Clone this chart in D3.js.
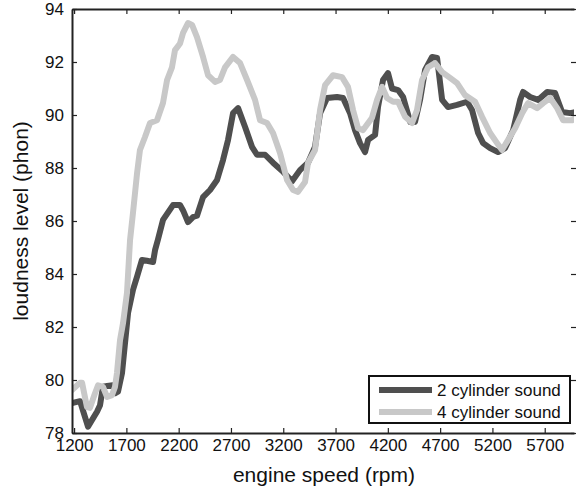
<!DOCTYPE html>
<html>
<head>
<meta charset="utf-8">
<script src="https://cdn.jsdelivr.net/npm/d3@7"></script>
<style>
  body { margin: 0; background: #fff; }
  svg text { font-family: "Liberation Sans", Arial, sans-serif; fill: #111; }
</style>
</head>
<body>
<div id="chart"></div>
<script>
// series data (rpm, phon)
var rpm2 = [1180,1257,1333,1419,1448,1476,1515,1572,1591,1620,1658,1687,1716,1763,1802,1849,1897,1955,1974,2002,2050,2146,2213,2242,2289,2337,2375,2433,2500,2567,2624,2672,2720,2768,2835,2901,2949,3026,3102,3188,3284,3360,3437,3504,3552,3619,3714,3772,3839,3886,3934,3982,4011,4078,4106,4154,4202,4240,4298,4346,4413,4460,4508,4556,4623,4671,4719,4776,4862,4958,5005,5063,5111,5178,5254,5321,5398,5465,5493,5560,5637,5723,5799,5866,5943,5980];
var loud2 = [79.13,79.2,78.24,78.8,79.05,79.75,79.77,79.8,79.5,79.56,80.26,81.4,82.53,83.4,83.9,84.53,84.5,84.45,84.9,85.3,86.04,86.6,86.6,86.4,85.96,86.15,86.2,86.9,87.17,87.55,88.3,89.06,90.07,90.26,89.55,88.8,88.5,88.5,88.2,87.9,87.5,87.92,88.2,88.8,90.07,90.64,90.68,90.64,90.07,89.43,88.94,88.6,89.06,89.25,90.3,91.32,91.58,91.0,90.94,90.68,89.74,89.74,90.57,91.7,92.19,92.15,90.57,90.3,90.38,90.5,90.19,89.32,88.94,88.75,88.6,88.75,89.43,90.57,90.87,90.68,90.57,90.87,90.83,90.11,90.07,90.1];

var rpm4 = [1180,1257,1276,1323,1352,1400,1429,1476,1515,1563,1591,1610,1639,1668,1706,1735,1763,1802,1830,1878,1926,1993,2050,2089,2136,2165,2213,2242,2289,2328,2375,2433,2481,2548,2595,2643,2720,2787,2854,2930,2978,3045,3102,3169,3236,3294,3341,3408,3437,3504,3552,3600,3676,3762,3819,3867,3915,3963,4049,4097,4145,4192,4250,4298,4365,4432,4479,4527,4585,4651,4719,4795,4862,4938,5034,5101,5178,5245,5292,5350,5417,5484,5541,5627,5685,5752,5819,5876,5962,5980];
var loud4 = [79.62,79.9,79.9,78.98,78.95,79.5,79.8,79.74,79.36,79.43,79.74,80.26,81.5,82.15,83.3,85.28,86.3,87.8,88.68,89.17,89.7,89.8,90.45,91.32,91.8,92.45,92.7,93.1,93.47,93.4,92.94,92.19,91.5,91.25,91.32,91.8,92.19,91.96,91.32,90.57,89.8,89.7,89.32,88.57,87.55,87.17,87.1,87.47,88.2,88.68,90.19,91.13,91.5,91.43,91.06,90.19,89.5,89.43,89.9,90.57,91.06,90.64,90.5,90.5,89.93,89.7,90.19,91.32,91.8,91.96,91.62,91.4,91.2,90.75,90.5,89.93,89.32,88.94,88.68,89.06,89.5,90.07,90.45,90.26,90.45,90.64,90.26,89.8,89.8,89.85];

var xTicks = [1200,1700,2200,2700,3200,3700,4200,4700,5200,5700];
var yTicks = [78,80,82,84,86,88,90,92,94];
var seriesNames = ["2 cylinder sound", "4 cylinder sound"];
var seriesColors = ["#4f4f4f", "#c8c8c8"];

var svgWidth = 576, svgHeight = 491;
var plotLeft = 72, plotRight = 574, plotTop = 9, plotBottom = 433;

var svg = d3.select("#chart").append("svg")
    .attr("width", svgWidth)
    .attr("height", svgHeight);

var x = d3.scaleLinear().domain([1180, 5980]).range([plotLeft, plotRight]);
var y = d3.scaleLinear().domain([78, 94]).range([plotBottom, plotTop]);

// clip the lines to the plot box
svg.append("clipPath").attr("id", "plotclip")
  .append("rect")
    .attr("x", plotLeft).attr("y", plotTop)
    .attr("width", plotRight - plotLeft).attr("height", plotBottom - plotTop);

var line = d3.line()
    .x(d => x(d[0]))
    .y(d => y(d[1]));

var data2 = rpm2.map((r, i) => [r, loud2[i]]);
var data4 = rpm4.map((r, i) => [r, loud4[i]]);

var lines = svg.append("g").attr("clip-path", "url(#plotclip)");
[data2, data4].forEach(function(d, i) {
  lines.append("path")
    .datum(d)
    .attr("d", line)
    .attr("fill", "none")
    .attr("stroke", seriesColors[i])
    .attr("stroke-width", 6)
    .attr("stroke-linejoin", "round")
    .attr("stroke-linecap", "round");
});

// axes: bottom and left with labels, top and right as plain inward ticks
var xAxis = d3.axisBottom(x).tickValues(xTicks).tickFormat(d3.format("d"))
    .tickSizeInner(-5).tickSizeOuter(0).tickPadding(6);
var yAxis = d3.axisLeft(y).tickValues(yTicks).tickFormat(d3.format("d"))
    .tickSizeInner(-5).tickSizeOuter(0).tickPadding(8);

var gx = svg.append("g")
    .attr("transform", `translate(0, ${plotBottom})`)
    .call(xAxis);
var gy = svg.append("g")
    .attr("transform", `translate(${plotLeft}, 0)`)
    .call(yAxis);

var gxTop = svg.append("g")
    .attr("transform", `translate(0, ${plotTop})`)
    .call(d3.axisTop(x).tickValues(xTicks).tickSizeInner(-5).tickSizeOuter(0).tickFormat(""));
var gyRight = svg.append("g")
    .attr("transform", `translate(${plotRight + 2}, 0)`)
    .call(d3.axisRight(y).tickValues(yTicks).tickSizeInner(-5).tickSizeOuter(0).tickFormat(""));
gyRight.select(".domain").remove();

[gx, gy, gxTop].forEach(function(g) {
  g.select(".domain").attr("stroke", "#222").attr("stroke-width", 2);
});
[gx, gy, gxTop, gyRight].forEach(function(g) {
  g.selectAll(".tick line").attr("stroke", "#222").attr("stroke-width", 1.2);
  g.selectAll(".tick text")
    .attr("font-size", "17px")
    .attr("font-family", "Liberation Sans, Arial, sans-serif")
    .attr("fill", "#111");
});

// axis titles
svg.append("text")
    .attr("x", (plotLeft + 576) / 2)
    .attr("y", 482)
    .attr("text-anchor", "middle")
    .attr("font-size", "21px")
    .text("engine speed (rpm)");

svg.append("text")
    .attr("transform", `translate(28, ${(plotTop + plotBottom) / 2}) rotate(-90)`)
    .attr("text-anchor", "middle")
    .attr("font-size", "21px")
    .text("loudness level (phon)");

// legend
var legend = svg.append("g");
legend.append("rect")
    .attr("x", 369).attr("y", 376)
    .attr("width", 201).attr("height", 47)
    .attr("fill", "#fff")
    .attr("stroke", "#111")
    .attr("stroke-width", 2);
seriesNames.forEach(function(name, i) {
  var ly = 390 + i * 22;
  legend.append("line")
    .attr("x1", 379).attr("x2", 432)
    .attr("y1", ly).attr("y2", ly)
    .attr("stroke", seriesColors[i])
    .attr("stroke-width", 6);
  legend.append("text")
    .attr("x", 437).attr("y", ly + 6)
    .attr("font-size", "17px")
    .text(name);
});
</script>
</body>
</html>
